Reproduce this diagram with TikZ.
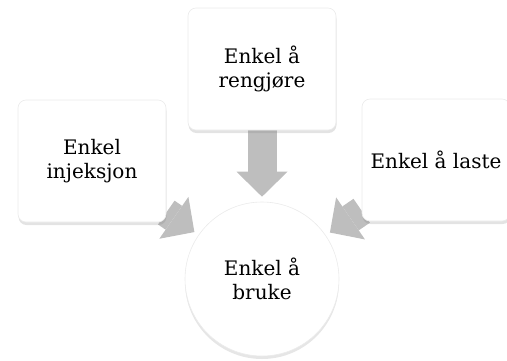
\documentclass[tikz,border=0pt]{standalone}
\usepackage{fontspec}
\setmainfont{DejaVu Serif}
\usetikzlibrary{arrows.meta,shadows,backgrounds}
\definecolor{arrowgray}{RGB}{190,190,190}

\begin{document}
\begin{tikzpicture}[
  x=1pt, y=-1pt,
  font=\fontsize{20}{24}\selectfont,
  box/.style={fill=white, draw=black!8, line width=0.6pt, rounded corners=8pt, align=center,
    minimum width=148pt, minimum height=122pt,
    drop shadow={shadow xshift=0.5pt, shadow yshift=-3pt, opacity=0.22}},
  goal/.style={circle, fill=white, draw=black!8, line width=0.6pt, align=center, minimum size=154pt,
    drop shadow={shadow xshift=0pt, shadow yshift=-3pt, opacity=0.2}},
  blockarrow/.style={draw=arrowgray, line width=29pt,
    -{Triangle[width=51pt, length=25pt, line width=0pt, fill=arrowgray]}, shorten >=5pt}
]
\useasboundingbox (0,0) rectangle (507,360);
\clip (0,0) rectangle (507,360);
\node[box] (inj) at (92,161) {Enkel\\injeksjon};
\node[box] (clean) at (262,69) {Enkel å\\rengjøre};
\node[box] (load) at (436,160) {Enkel å laste};
\node[goal] (use) at (262,279) {Enkel å\\bruke};
\begin{scope}[on background layer]
\draw[blockarrow] (clean) -- (use);
\draw[blockarrow] (inj) -- (use);
\draw[blockarrow] (load) -- (use);
\end{scope}
\end{tikzpicture}
\end{document}
